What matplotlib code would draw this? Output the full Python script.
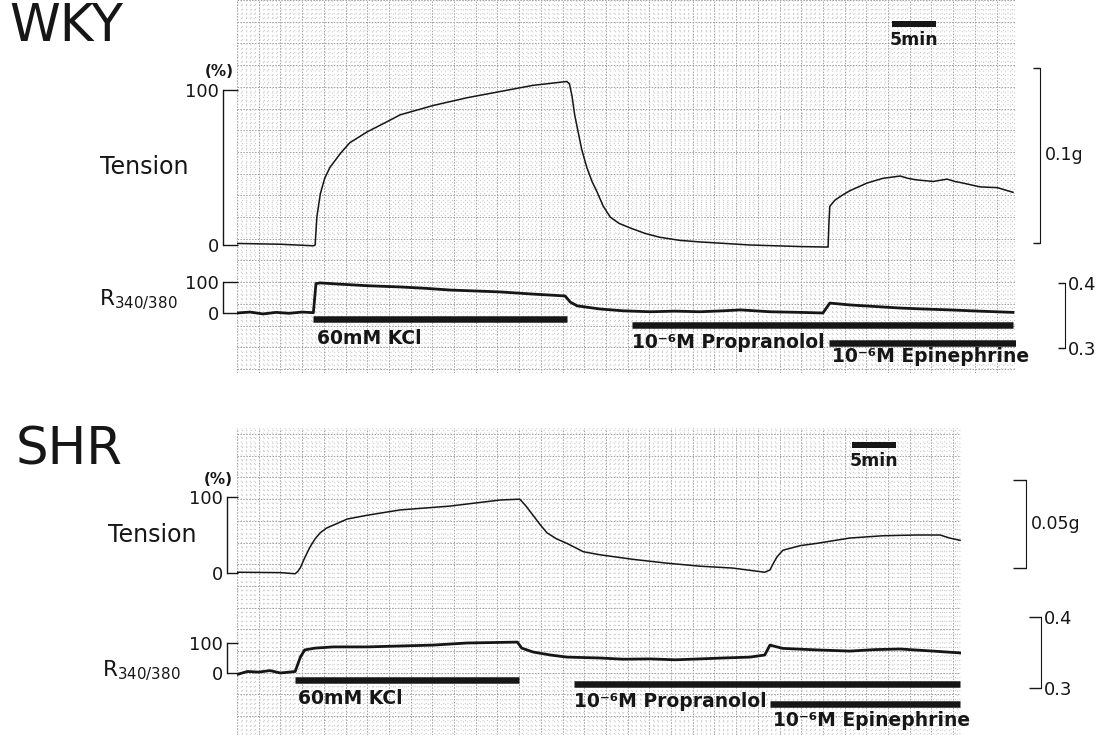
"""
Chart-recorder traces of isometric tension and fura-2 ratio (R340/380) in WKY and SHR
aortic strips: 60 mM KCl, then 1e-6 M propranolol, then 1e-6 M epinephrine.
Redrawn on simulated recorder paper; writes out.png.
"""
import matplotlib

matplotlib.use("Agg")   # headless backend
import matplotlib.pyplot as plt
from matplotlib.ticker import MultipleLocator

plt.rcParams["font.family"] = ["DejaVu Sans"]
plt.rcParams["mathtext.default"] = "regular"

# ---- data: time in min from start of trace, tension in % of KCl max, R in % of KCl rise
wky_tension_time = [0.0, 4.9, 8.8, 9.0, 9.2, 9.6, 10.1, 10.7, 11.9, 13.0, 15.0, 17.1, 18.8,
                    22.6, 26.5, 30.3, 34.1, 38.0, 38.3, 38.6, 38.9, 39.3, 39.7, 40.3, 40.9,
                    41.5, 42.2, 43.0, 44.0, 45.3, 47.0, 48.7, 51.0, 53.3, 59.1, 64.9, 67.7,
                    68.1, 68.2, 68.3, 68.9, 69.7, 70.6, 72.6, 74.4, 76.4, 77.3, 78.3, 80.2,
                    81.8, 82.7, 83.6, 85.6, 87.6, 89.4]
wky_tension = [1.0, 0.5, -0.5, 0.0, 18, 33, 43, 50, 59, 66, 73, 79, 84,
               90, 95, 99, 103, 105.5, 104, 96, 84, 73, 62, 50, 41,
               34, 25, 18, 14, 11, 7.5, 5, 3, 2, 0, -1, -1.3,
               -1.3, 15, 25, 29, 32, 35, 40, 43, 44.5, 43, 42, 41,
               42.5, 41, 40, 37.5, 37, 34]
wky_ratio_time = [0.0, 1.5, 3.0, 4.5, 6.0, 7.5, 8.8, 9.1, 9.6, 11.9, 15.0, 18.8, 21.5,
                  24.6, 27.5, 30.3, 34.1, 37.8, 38.4, 39.2, 41.8, 44.5, 47.6, 50.5, 53.3,
                  56.0, 58.0, 61.4, 64.9, 67.5, 68.3, 70.6, 73.5, 76.4, 79.0, 82.1, 85.5,
                  89.4]
wky_ratio = [0, 3, -3, 2, -1, 3, 1, 95, 97, 93, 88, 84, 80,
             74, 71, 68, 61, 55, 35, 23, 13, 7, 4, 6, 4,
             7, 10, 4, 2, 0, 32, 26, 21, 16, 13, 10, 6,
             2]

shr_tension_time = [0.0, 5.0, 6.7, 7.0, 7.3, 7.8, 8.4, 9.0, 9.6, 10.3, 11.1, 12.7, 15.0,
                    18.8, 24.5, 30.3, 32.3, 32.6, 33.3, 34.1, 34.9, 35.7, 36.8, 38.0, 39.9,
                    41.8, 45.6, 49.5, 53.3, 57.1, 60.8, 61.4, 61.8, 62.2, 62.9, 64.9, 66.8,
                    70.6, 74.4, 78.3, 81.0, 82.1, 83.3]
shr_tension = [1, 0.5, -1, 2, 7, 20, 34, 45, 53, 59, 63, 71, 76,
               83, 88, 96, 97, 97, 88, 76, 64, 53, 45, 39, 28,
               24, 18, 13, 9, 6.5, 1, 4, 13, 21, 30, 36, 39,
               46, 49, 50, 50, 46, 43]
shr_ratio_time = [0.0, 1.2, 2.5, 3.8, 5.0, 6.7, 7.3, 7.8, 9.0, 11.1, 15.0, 18.8, 22.6,
                  26.5, 32.3, 32.8, 34.1, 36.1, 38.0, 41.8, 44.5, 47.6, 50.5, 53.3, 56.0,
                  59.1, 60.8, 61.4, 62.2, 62.9, 66.8, 70.6, 73.5, 76.4, 80.2, 83.3]
shr_ratio = [-5, 5, 3, 8, 0, 5, 53, 77, 83, 87, 87, 90, 93,
             100, 103, 83, 70, 60, 53, 50, 46, 47, 44, 47, 50,
             53, 60, 93, 87, 82, 77, 73, 78, 80, 73, 67]

# drug application periods (min)
wky_kcl = (8.8, 38.0)
wky_propranolol = (45.5, 89.4)
wky_epinephrine = (68.2, 89.8)
shr_kcl = (6.7, 32.5)
shr_propranolol = (38.8, 83.3)
shr_epinephrine = (61.4, 83.3)

SCALE_MIN = 5          # time calibration bar
WKY_GRAMS = 0.1        # tension calibration
SHR_GRAMS = 0.05
RATIO_TICKS = [0.3, 0.4]

# ---- layout (pixels on the 1103x735 canvas)
W, H, DPI = 1103, 735, 100
PX_PER_MIN = 8.68
INK = "#161616"

WKY_LAYOUT = dict(paper=(237, 0, 1016, 373), t_zero=245, t_full=90, r_zero=313, r_full=282,
                  left_x=223, g_x=1040, g_lo=243, g_hi=68, g_tick=7, g_label="0.1g",
                  rr_x=1065, rr_03=348, rr_04=283, rr_tick=7,
                  bars=(319, 325, 343), labels=(329, 333, 347), label_dx=(0.4, 0.0, 0.3),
                  scale_t=75.5, scale_y=24, scale_label_y=31,
                  title_xy=(9, 2), tension_xy=(100, 167), r_xy=(99, 300), pct_xy=(219, 72))
SHR_LAYOUT = dict(paper=(237, 428, 961, 735), t_zero=573, t_full=497, r_zero=673, r_full=643,
                  left_x=227, g_x=1026, g_lo=568, g_hi=480, g_tick=13, g_label="0.05g",
                  rr_x=1041, rr_03=688, rr_04=617, rr_tick=12,
                  bars=(680, 684, 704), labels=(689, 692, 711), label_dx=(0.3, 0.0, 0.3),
                  scale_t=70.9, scale_y=445, scale_label_y=452,
                  title_xy=(16, 426), tension_xy=(108, 535), r_xy=(102, 671), pct_xy=(218, 479))


def rect(x0, y0, x1, y1):
    return [x0 / W, 1 - y1 / H, (x1 - x0) / W, (y1 - y0) / H]


def pts(px):
    return px * 72.0 / DPI


def fig_xy(x, y):
    return x / W, 1 - y / H


def bare(ax):
    for spine in ax.spines.values():
        spine.set_visible(False)
    ax.tick_params(axis="both", which="both", bottom=False, left=False, right=False,
                   top=False, labelbottom=False, labelleft=False, labelright=False)


def draw_panel(fig, lay, title, tension_time, tension, ratio_time, ratio,
               kcl, propranolol, epinephrine, grams):
    x0, y0, x1, y1 = lay["paper"]
    span_min = (x1 - x0) / PX_PER_MIN

    # recorder paper: x in minutes, y in pixels (inverted) so squares stay square
    paper = fig.add_axes(rect(*lay["paper"]))
    paper.set_xlim(0, span_min)
    paper.set_ylim(y1, y0)
    bare(paper)
    paper.xaxis.set_major_locator(MultipleLocator(2.5))
    paper.xaxis.set_minor_locator(MultipleLocator(0.5))
    paper.yaxis.set_major_locator(MultipleLocator(2.5 * PX_PER_MIN))
    paper.yaxis.set_minor_locator(MultipleLocator(0.5 * PX_PER_MIN))
    paper.grid(True, which="major", color="#a2a2a2", linewidth=0.7, linestyle=(0, (1.6, 1.4)))
    paper.grid(True, which="minor", color="#c9c9c9", linewidth=0.9, linestyle=(0, (0.8, 2.7)))
    paper.set_axisbelow(True)

    # drug bars and labels
    names = [("60mM KCl", kcl), ("10\u207b\u2076M Propranolol", propranolol),
             ("10\u207b\u2076M Epinephrine", epinephrine)]
    for (name, (start, end)), y_bar, y_lab, dx in zip(names, lay["bars"], lay["labels"],
                                                   lay["label_dx"]):
        paper.hlines(y_bar, start, end, color=INK, linewidth=pts(6.5), zorder=5)
        paper.text(start + dx, y_lab, name, fontsize=13.5, fontweight="bold", color=INK,
                   va="top", ha="left", zorder=6, clip_on=False)

    # 5 min calibration bar
    paper.hlines(lay["scale_y"], lay["scale_t"], lay["scale_t"] + SCALE_MIN, color=INK,
                 linewidth=pts(6), zorder=5)
    paper.text(lay["scale_t"] + SCALE_MIN / 2, lay["scale_label_y"], f"{SCALE_MIN}min",
               fontsize=12.5, fontweight="bold", color=INK, ha="center", va="top", zorder=6)

    def value_limits(zero_px, full_px, full_value):
        per_px = full_value / (zero_px - full_px)
        return (zero_px - y1) * per_px, (zero_px - y0) * per_px

    left_offset = pts(x0 - lay["left_x"])

    # tension trace, % axis on the left
    ax_t = fig.add_axes(rect(*lay["paper"]))
    ax_t.patch.set_visible(False)
    ax_t.set_xlim(0, span_min)
    ax_t.set_ylim(*value_limits(lay["t_zero"], lay["t_full"], 100))
    ax_t.plot(tension_time, tension, color=INK, linewidth=1.1, solid_joinstyle="round")

    # R340/380 trace, % axis on the left
    ax_r = fig.add_axes(rect(*lay["paper"]))
    ax_r.patch.set_visible(False)
    ax_r.set_xlim(0, span_min)
    ax_r.set_ylim(*value_limits(lay["r_zero"], lay["r_full"], 100))
    ax_r.plot(ratio_time, ratio, color=INK, linewidth=2.0, solid_joinstyle="round")

    for ax in (ax_t, ax_r):
        for side in ("top", "right", "bottom"):
            ax.spines[side].set_visible(False)
        ax.spines["left"].set_position(("outward", left_offset))
        ax.spines["left"].set_bounds(0, 100)
        ax.spines["left"].set_linewidth(1.0)
        ax.spines["left"].set_color(INK)
        ax.set_yticks([0, 100])
        ax.tick_params(axis="y", direction="in", length=pts(x0 - lay["left_x"]) + 0.5,
                       width=1.0, color=INK, labelsize=13, pad=3, labelcolor=INK)
        ax.tick_params(axis="x", bottom=False, labelbottom=False)

    # tension calibration bracket on the right (grams)
    ax_g = ax_t.twinx()
    ax_g.set_ylim(*value_limits(lay["g_lo"], lay["g_hi"], grams))
    for side in ("top", "left", "bottom"):
        ax_g.spines[side].set_visible(False)
    ax_g.spines["right"].set_position(("outward", pts(lay["g_x"] - x1)))
    ax_g.spines["right"].set_bounds(0, grams)
    ax_g.spines["right"].set_color(INK)
    ax_g.set_yticks([0, grams])
    ax_g.tick_params(axis="y", direction="in", length=pts(lay["g_tick"]), width=1.0,
                     color=INK, labelright=False)
    gx, gy = fig_xy(lay["g_x"] + 5, (lay["g_lo"] + lay["g_hi"]) / 2)
    fig.text(gx, gy, lay["g_label"], fontsize=12.5, color=INK, va="center", ha="left")

    # ratio calibration bracket on the right (R340/380 units)
    ax_rr = ax_r.twinx()
    per_px = (RATIO_TICKS[1] - RATIO_TICKS[0]) / (lay["rr_03"] - lay["rr_04"])
    ax_rr.set_ylim(RATIO_TICKS[0] + (lay["rr_03"] - y1) * per_px,
                   RATIO_TICKS[0] + (lay["rr_03"] - y0) * per_px)
    for side in ("top", "left", "bottom"):
        ax_rr.spines[side].set_visible(False)
    ax_rr.spines["right"].set_position(("outward", pts(lay["rr_x"] - x1)))
    ax_rr.spines["right"].set_bounds(*RATIO_TICKS)
    ax_rr.spines["right"].set_color(INK)
    ax_rr.set_yticks(RATIO_TICKS)
    ax_rr.set_yticklabels([f"{v:.1f}" for v in RATIO_TICKS])
    ax_rr.tick_params(axis="y", direction="in", length=pts(lay["rr_tick"]), width=1.0,
                      color=INK, labelsize=13, pad=2, labelcolor=INK)

    # left-hand labels
    tx, ty = fig_xy(*lay["title_xy"])
    fig.text(tx, ty, title, fontsize=37, color=INK, ha="left", va="top")
    tx, ty = fig_xy(*lay["tension_xy"])
    fig.text(tx, ty, "Tension", fontsize=17, color=INK, ha="left", va="center")
    tx, ty = fig_xy(*lay["r_xy"])
    fig.text(tx, ty, "R$_{340/380}$", fontsize=15.5, color=INK, ha="left", va="center")
    tx, ty = fig_xy(*lay["pct_xy"])
    fig.text(tx, ty, "(%)", fontsize=11, fontweight="bold", color=INK, ha="center",
             va="center")


fig = plt.figure(figsize=(W / DPI, H / DPI), dpi=DPI)
fig.patch.set_facecolor("white")
draw_panel(fig, WKY_LAYOUT, "WKY", wky_tension_time, wky_tension, wky_ratio_time, wky_ratio,
           wky_kcl, wky_propranolol, wky_epinephrine, WKY_GRAMS)
draw_panel(fig, SHR_LAYOUT, "SHR", shr_tension_time, shr_tension, shr_ratio_time, shr_ratio,
           shr_kcl, shr_propranolol, shr_epinephrine, SHR_GRAMS)
fig.savefig("out.png", dpi=DPI)
